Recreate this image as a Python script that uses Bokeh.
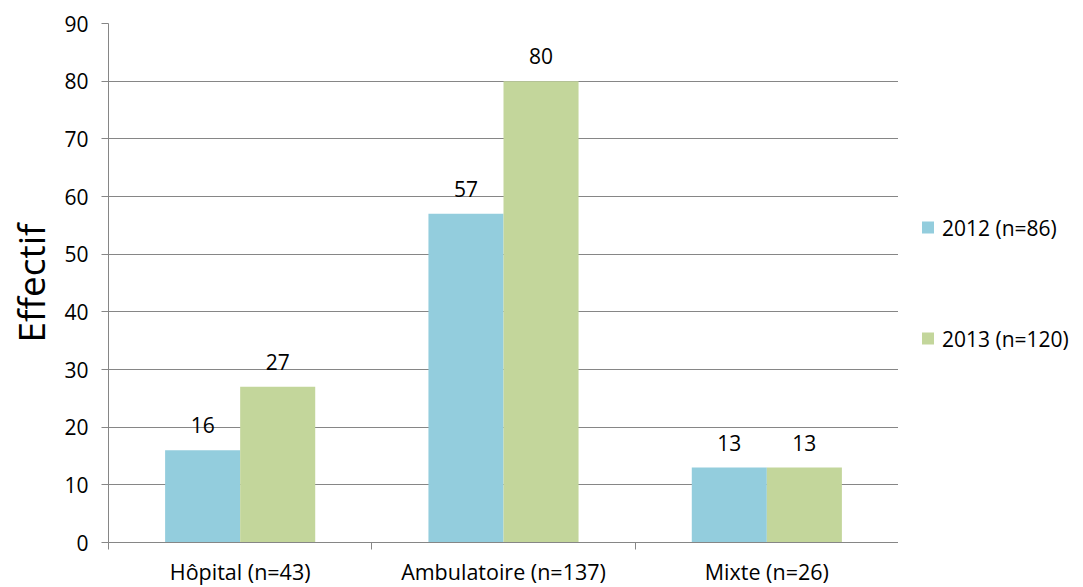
from bokeh.plotting import figure
from bokeh.layouts import row
from bokeh.models import ColumnDataSource, FixedTicker, Legend, LegendItem, LabelSet, Range1d
from bokeh.core.properties import value
from bokeh.embed import file_html
from bokeh.resources import INLINE

categories = ["Hôpital (n=43)", "Ambulatoire (n=137)", "Mixte (n=26)"]
series_names = ["2012 (n=86)", "2013 (n=120)"]
values_2012 = [16, 57, 13]
values_2013 = [27, 80, 13]
y_ticks = [0, 10, 20, 30, 40, 50, 60, 70, 80, 90]

colors = ["#93CDDD", "#C3D69B"]
FONT = "Open Sans"
FS = "21px"
BAR_W = 0.285

centers = [i + 0.5 for i in range(len(categories))]

p = figure(output_backend="svg", toolbar_location=None,
           frame_width=790, frame_height=519,
           min_border_left=108, min_border_right=0,
           min_border_top=23, min_border_bottom=44,
           x_range=Range1d(0, len(categories)), y_range=Range1d(0, 90))
p.outline_line_color = None
p.background_fill_color = "white"

src1 = ColumnDataSource(dict(x=[c - BAR_W / 2 for c in centers], top=values_2012,
                             lab=[str(v) for v in values_2012]))
src2 = ColumnDataSource(dict(x=[c + BAR_W / 2 for c in centers], top=values_2013,
                             lab=[str(v) for v in values_2013]))

r1 = p.vbar(x="x", top="top", width=BAR_W, source=src1, fill_color=colors[0], line_color=None)
r2 = p.vbar(x="x", top="top", width=BAR_W, source=src2, fill_color=colors[1], line_color=None)

for s in (src1, src2):
    p.add_layout(LabelSet(x="x", y="top", text="lab", source=s, text_align="center",
                          text_baseline="bottom", y_offset=17, text_font=value(FONT),
                          text_font_size=value(FS), text_color="#000000"))

# grid
p.xgrid.grid_line_color = None
p.ygrid.ticker = FixedTicker(ticks=y_ticks)
p.ygrid.grid_line_color = "#868686"
p.ygrid.grid_line_width = 1

# y axis
p.yaxis.ticker = FixedTicker(ticks=y_ticks)
p.yaxis.axis_line_color = "#868686"
p.yaxis.major_tick_line_color = "#868686"
p.yaxis.major_tick_out = 7
p.yaxis.major_tick_in = 0
p.yaxis.minor_tick_line_color = None
p.yaxis.major_label_text_font = FONT
p.yaxis.major_label_text_font_size = FS
p.yaxis.major_label_text_color = "#000000"
p.yaxis.major_label_standoff = 13
p.yaxis.axis_label = "Effectif"
p.yaxis.axis_label_text_font = FONT
p.yaxis.axis_label_text_font_size = "37px"
p.yaxis.axis_label_text_font_style = "normal"
p.yaxis.axis_label_text_color = "#000000"
p.yaxis.axis_label_standoff = 5

# x axis: labels at centers, tick marks at category boundaries
p.xaxis.ticker = FixedTicker(ticks=centers, minor_ticks=list(range(len(categories) + 1)))
p.xaxis.major_label_overrides = {c: name for c, name in zip(centers, categories)}
p.xaxis.axis_line_color = "#868686"
p.xaxis.major_tick_line_color = None
p.xaxis.major_tick_out = 0
p.xaxis.major_tick_in = 0
p.xaxis.minor_tick_line_color = "#868686"
p.xaxis.minor_tick_out = 7
p.xaxis.minor_tick_in = 0
p.xaxis.major_label_text_font = FONT
p.xaxis.major_label_text_font_size = "21.5px"
p.xaxis.major_label_text_color = "#000000"
p.xaxis.major_label_standoff = 7

# separate legend panel to the right of the plot
lf = figure(output_backend="svg", toolbar_location=None,
            frame_width=175, frame_height=565, min_border=0,
            x_range=Range1d(0, 1), y_range=Range1d(0, 1))
lf.outline_line_color = None
lf.axis.visible = False
lf.grid.visible = False
# proxy renderers (kept outside the visible range) that only feed the legend swatches
l1 = lf.vbar(x=[5], top=[5], width=0.1, fill_color=colors[0], line_color=None)
l2 = lf.vbar(x=[5], top=[5], width=0.1, fill_color=colors[1], line_color=None)

legend = Legend(items=[LegendItem(label=series_names[0], renderers=[l1], index=0),
                       LegendItem(label=series_names[1], renderers=[l2], index=0)],
                location="left", border_line_color=None, background_fill_alpha=0,
                label_text_font=FONT, label_text_font_size=FS, label_text_color="#000000",
                glyph_width=15, glyph_height=15, spacing=83, label_standoff=7,
                padding=0, margin=22)
lf.add_layout(legend, "center")

layout = row(p, lf, spacing=0)
open("out.html", "w").write(file_html(layout, INLINE))
